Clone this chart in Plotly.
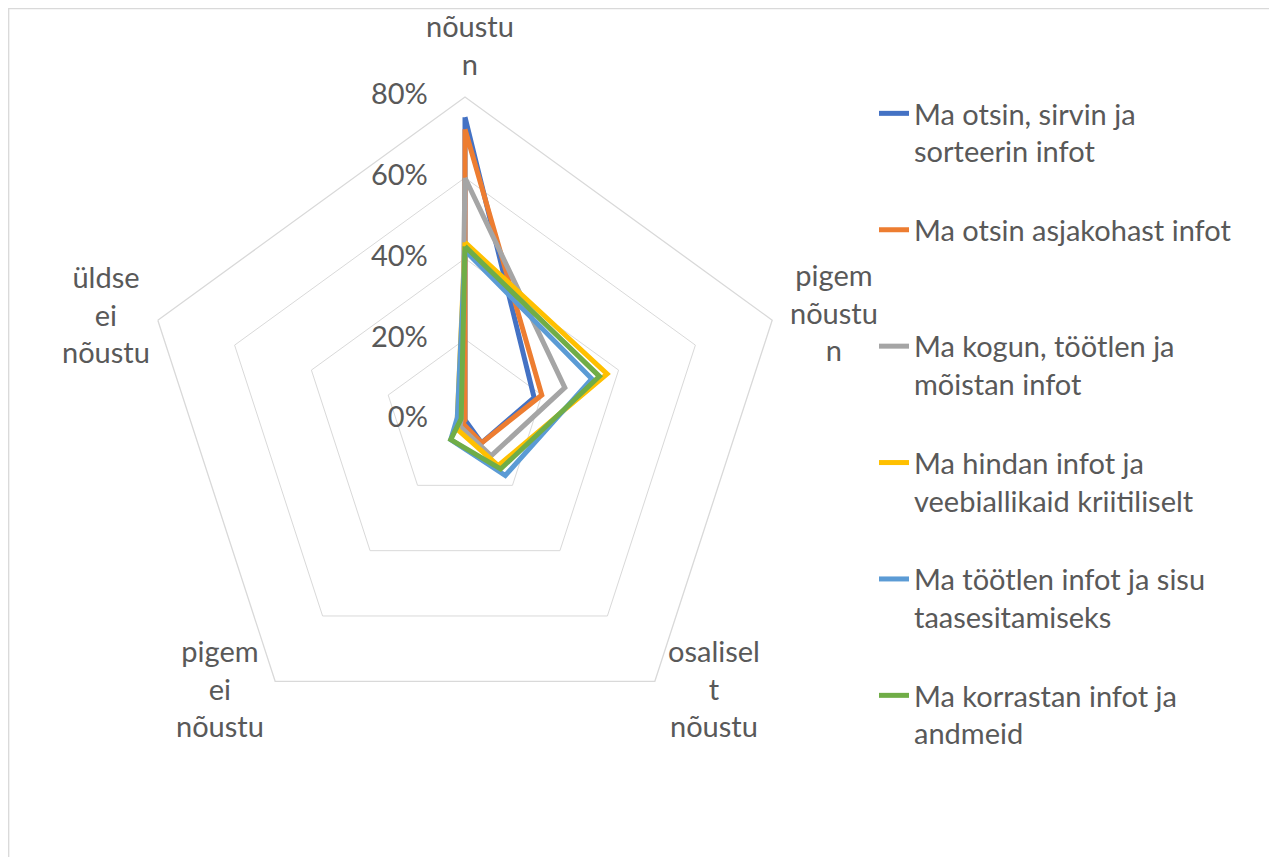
import plotly.graph_objects as go

categories = ["nõustun", "pigem nõustun", "osaliselt nõustu", "pigem ei nõustu", "üldse ei nõustu"]
category_labels = ["nõustu<br>n", "pigem<br>nõustu<br>n", "osalisel<br>t<br>nõustu",
                   "pigem<br>ei<br>nõustu", "üldse<br>ei<br>nõustu"]

series_names = [
    "Ma otsin, sirvin ja<br>sorteerin infot",
    "Ma otsin asjakohast infot<br> ",
    "Ma kogun, töötlen ja<br>mõistan infot",
    "Ma hindan infot ja<br>veebiallikaid kriitiliselt",
    "Ma töötlen infot ja sisu<br>taasesitamiseks",
    "Ma korrastan infot ja<br>andmeid",
]
otsin_sirvin = [0.75, 0.18, 0.07, 0.00, 0.00]
otsin_asjakohast = [0.72, 0.20, 0.07, 0.01, 0.00]
kogun = [0.60, 0.26, 0.11, 0.02, 0.01]
hindan = [0.44, 0.37, 0.14, 0.03, 0.02]
tootlen = [0.42, 0.33, 0.17, 0.06, 0.02]
korrastan = [0.43, 0.35, 0.15, 0.06, 0.01]

radial_ticks = [0, 0.2, 0.4, 0.6, 0.8]
radial_ticktext = ["0%", "20%", "40%", "60%", "80%"]

colors = ["#4472C4", "#ED7D31", "#A5A5A5", "#FFC000", "#5B9BD5", "#70AD47"]
all_values = [otsin_sirvin, otsin_asjakohast, kogun, hindan, tootlen, korrastan]

W, H = 1277, 857
cx, cy, R = 457, 412, 323
FONT = "Lato, Open Sans, sans-serif"
GREY_TEXT = "#595959"
FS = 29

fig = go.Figure()

# radial tick labels, placed left of the vertical axis
# (plotly drops a text point sitting exactly on the pole, so nudge it by a hair)
pad = "\u00a0" * 5
fig.add_trace(go.Scatterpolar(
    r=[max(v, 0.0005) for v in radial_ticks],
    theta=[categories[0]] * len(radial_ticks),
    mode="text",
    text=[t + pad for t in radial_ticktext],
    textposition="middle left",
    textfont=dict(family=FONT, size=FS, color=GREY_TEXT),
    showlegend=False, hoverinfo="skip", cliponaxis=False,
))

for i, (name, vals) in enumerate(zip(series_names, all_values)):
    fig.add_trace(go.Scatterpolar(
        r=vals + vals[:1],
        theta=categories + categories[:1],
        mode="lines",
        name=name,
        legendgroup=str(i),
        line=dict(color=colors[i], width=5),
    ))

# category label positions (px from top-left), Excel-style centred blocks
label_pos = [(462, 36), (826, 304), (706, 680), (212, 680), (98, 306)]
annotations = [
    dict(text=lab, x=px / W, y=1 - py / H, xref="paper", yref="paper",
         xanchor="center", yanchor="middle", align="center", showarrow=False,
         font=dict(family=FONT, size=FS, color=GREY_TEXT))
    for lab, (px, py) in zip(category_labels, label_pos)
]

fig.update_layout(
    width=W, height=H,
    paper_bgcolor="white",
    font=dict(family=FONT, color=GREY_TEXT, size=FS),
    margin=dict(l=0, r=0, t=0, b=0),
    polar=dict(
        domain=dict(x=[(cx - R) / W, (cx + R) / W], y=[1 - (cy + R) / H, 1 - (cy - R) / H]),
        gridshape="linear",
        bgcolor="white",
        angularaxis=dict(
            direction="clockwise", rotation=90,
            categoryorder="array", categoryarray=categories,
            showgrid=False, linecolor="#d9d9d9", linewidth=1.3,
            ticks="", showticklabels=False,
        ),
        radialaxis=dict(
            range=[0, 0.8], angle=90,
            tickvals=radial_ticks[1:], showticklabels=False,
            showline=False, ticks="", gridcolor="#d9d9d9", gridwidth=1.3,
        ),
    ),
    legend=dict(
        x=866 / W, y=1 - 80 / H, xanchor="left", yanchor="top",
        font=dict(family=FONT, size=FS, color=GREY_TEXT),
        tracegroupgap=38, valign="top",
        bgcolor="rgba(0,0,0,0)",
    ),
    annotations=annotations,
    # chart-area border (page body adds ~8px offset)
    shapes=[dict(type="rect", xref="paper", yref="paper",
                 x0=0.7 / W, x1=1263 / W, y0=-0.02, y1=1 - 0.7 / H,
                 line=dict(color="#d9d9d9", width=1.3))],
)

fig.write_html("out.html")
